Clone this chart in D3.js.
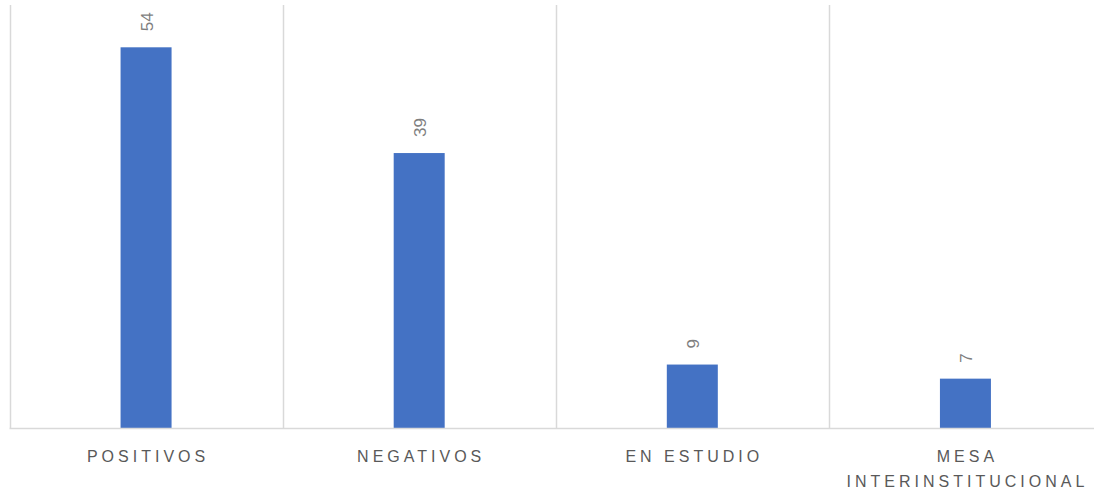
<!DOCTYPE html>
<html><head><meta charset="utf-8">
<script src="https://cdn.jsdelivr.net/npm/d3@7"></script>
<style>body{margin:0;background:#fff;} svg{display:block;}</style>
</head><body>
<svg id="c" width="1094" height="491"></svg>
<script>
const categories = [["POSITIVOS"], ["NEGATIVOS"], ["EN ESTUDIO"], ["MESA", "INTERINSTITUCIONAL"]];
const values = [54, 39, 9, 7];
const yTicks = [0, 10, 20, 30, 40, 50, 60];

const svg = d3.select("#c");
const mLeft = 9.5, mRight = 1102, mTop = 5, mBottom = 428;
const x = d3.scaleBand().domain(d3.range(categories.length)).range([mLeft, mRight]).paddingInner(0).paddingOuter(0);
const y = d3.scaleLinear().domain([0, 60]).range([mBottom, mTop]);

// vertical gridlines at band boundaries
const bounds = d3.range(categories.length + 1).map(i => i < categories.length ? x(i) : x(categories.length - 1) + x.bandwidth());
svg.append("g").selectAll("line").data(bounds).join("line")
  .attr("x1", d => Math.round(d) + 0.5).attr("x2", d => Math.round(d) + 0.5)
  .attr("y1", y(60)).attr("y2", mBottom)
  .attr("stroke", "#d9d9d9").attr("stroke-width", 1.5);

const barW = 51;
svg.append("g").selectAll("rect").data(values).join("rect")
  .attr("x", (d, i) => x(i) + x.bandwidth() / 2 - barW / 2)
  .attr("width", barW)
  .attr("y", d => y(d))
  .attr("height", d => mBottom - y(d))
  .attr("fill", "#4472c4");

// axis baseline
svg.append("line").attr("x1", mLeft).attr("x2", 1094).attr("y1", mBottom + 0.5).attr("y2", mBottom + 0.5)
  .attr("stroke", "#d9d9d9").attr("stroke-width", 1.5);

// value labels rotated
svg.append("g").selectAll("text").data(values).join("text")
  .attr("transform", (d, i) => `translate(${x(i) + x.bandwidth() / 2 + 6.5},${y(d) - 16}) rotate(-90)`)
  .attr("text-anchor", "start")
  .attr("font-family", "Liberation Sans, Arial, sans-serif")
  .attr("font-size", 17)
  .attr("fill", "#7f7f7f")
  .text(d => d);

// category labels
const lab = svg.append("g").selectAll("text").data(categories).join("text")
  .attr("x", (d, i) => x(i) + x.bandwidth() / 2)
  .attr("y", 462)
  .attr("text-anchor", "middle")
  .attr("font-family", "Liberation Sans, Arial, sans-serif")
  .attr("font-size", 16)
  .attr("letter-spacing", "4px")
  .attr("fill", "#595959");
lab.each(function(d, i) {
  const t = d3.select(this);
  d.forEach((line, j) => {
    t.append("tspan").attr("x", x(i) + x.bandwidth() / 2 + 2).attr("dy", j === 0 ? 0 : 25).text(line);
  });
});
</script>
</body></html>
